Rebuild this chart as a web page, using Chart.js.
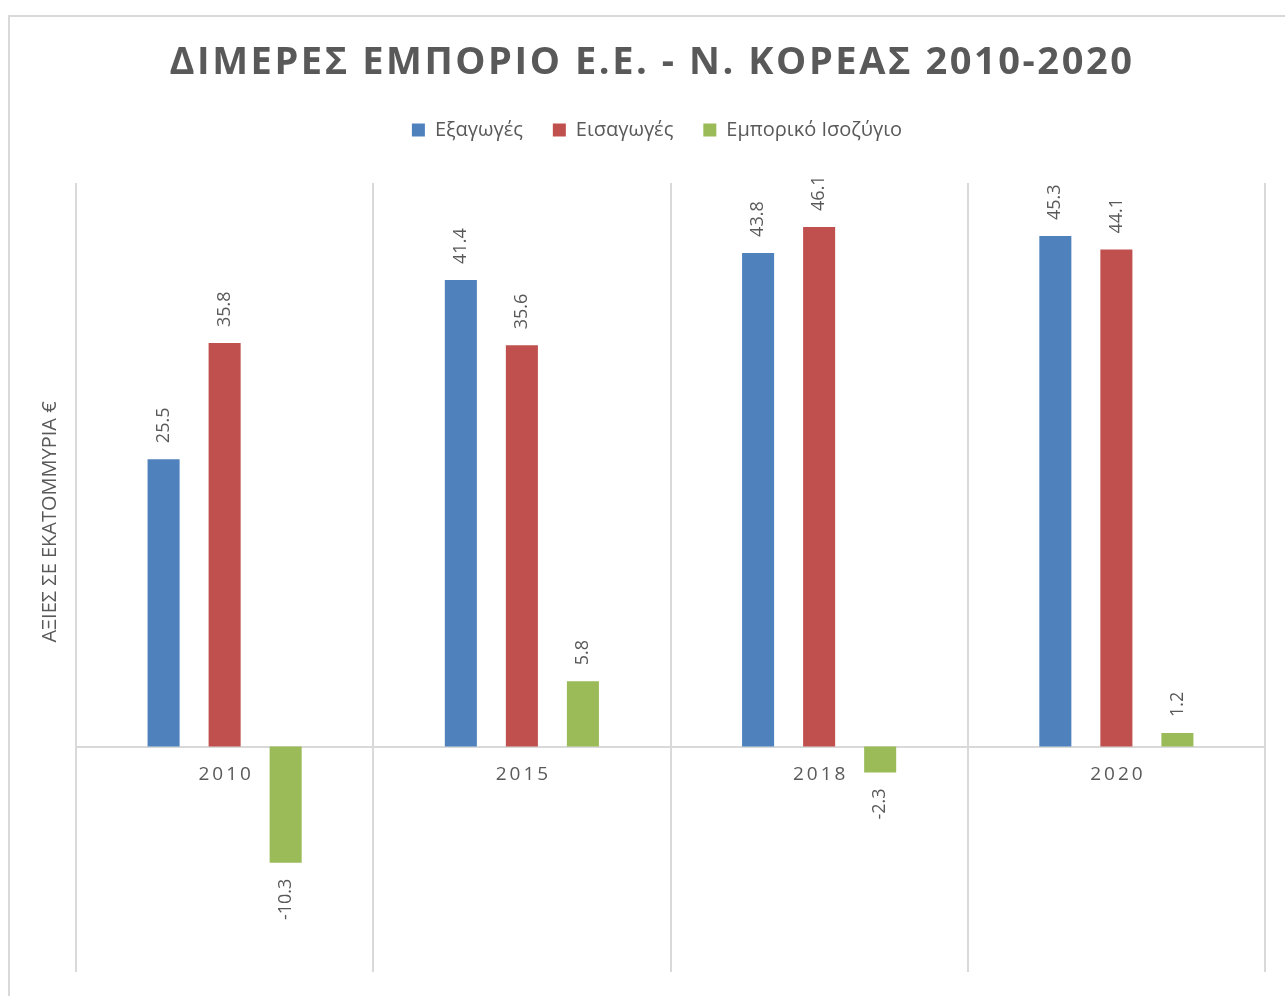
<!DOCTYPE html>
<html lang="el">
<head>
<meta charset="utf-8">
<title>Διμερές εμπόριο Ε.Ε. - Ν. Κορέας 2010-2020</title>
<script src="https://cdn.jsdelivr.net/npm/chart.js@4.4.1/dist/chart.umd.min.js"></script>
<style>
  html, body { margin: 0; padding: 0; background: #fff; overflow: hidden; }
  #frame {
    position: absolute; left: 8px; top: 15px;
    width: 1400px; height: 1100px;
    border: 2px solid #d9d9d9; box-sizing: border-box;
  }
  #wrap { position: absolute; left: 0; top: 0; width: 1285px; height: 996px; }
</style>
</head>
<body>
<div id="frame"></div>
<div id="wrap"><canvas id="chart" width="1285" height="996"></canvas></div>
<script>
  // ── Δεδομένα (εκατ. €) ───────────────────────────────────────
  const YEARS = ["2010", "2015", "2018", "2020"];
  const EXPORTS = [25.5, 41.4, 43.8, 45.3];
  const IMPORTS = [35.8, 35.6, 46.1, 44.1];
  const BALANCE = [-10.3, 5.8, -2.3, 1.2];
  const SERIES_NAMES = ["Εξαγωγές", "Εισαγωγές", "Εμπορικό Ισοζύγιο"];
  const Y_MIN = -20;
  const Y_MAX = 50;

  const TITLE = "ΔΙΜΕΡΕΣ ΕΜΠΟΡΙΟ Ε.Ε. - Ν. ΚΟΡΕΑΣ 2010-2020";
  const Y_TITLE = "ΑΞΙΕΣ ΣΕ ΕΚΑΤΟΜΜΥΡΙΑ €";

  const FONT = '"Open Sans", "Noto Sans", sans-serif';
  const TEXT = "#595959";
  const GRID = "#d9d9d9";

  Chart.defaults.font.family = FONT;
  Chart.defaults.color = TEXT;

  // Extra space between legend and plot (legend has no margin option)
  const legendSpacer = {
    id: "legendSpacer",
    beforeInit: function (chart) {
      const fit = chart.legend.fit;
      chart.legend.fit = function () {
        fit.bind(chart.legend)();
        this.height += 33;
      };
    }
  };

  // Title with letter spacing + rotated y-axis title
  const headings = {
    id: "headings",
    afterDraw: function (chart) {
      const ctx = chart.ctx;
      ctx.save();
      ctx.fillStyle = TEXT;
      ctx.textAlign = "center";
      ctx.textBaseline = "middle";
      ctx.font = "bold 38px " + FONT;
      const w = ctx.measureText(TITLE).width;
      ctx.letterSpacing = Math.max(0, (965 - w) / TITLE.length) + "px";
      ctx.fillText(TITLE, 652, 63);
      ctx.restore();

      ctx.save();
      ctx.fillStyle = TEXT;
      ctx.font = "20px " + FONT;
      ctx.textAlign = "center";
      ctx.textBaseline = "middle";
      ctx.translate(50, 522);
      ctx.rotate(-Math.PI / 2);
      ctx.fillText(Y_TITLE, 0, 0);
      ctx.restore();
    }
  };

  // Category labels (letter-spaced) placed at the x scale's tick pixels
  const categoryLabels = {
    id: "categoryLabels",
    afterDraw: function (chart) {
      const ctx = chart.ctx;
      const xs = chart.scales.x;
      const y0 = chart.scales.y.getPixelForValue(0);
      ctx.save();
      ctx.fillStyle = TEXT;
      ctx.font = "19px " + FONT;
      ctx.letterSpacing = "3px";
      ctx.textAlign = "center";
      ctx.textBaseline = "middle";
      chart.data.labels.forEach(function (lab, i) {
        ctx.fillText(lab, xs.getPixelForTick(i) + 1.5, y0 + 28);
      });
      ctx.restore();
    }
  };

  // Vertical value labels above / below each bar
  const barLabels = {
    id: "barLabels",
    afterDatasetsDraw: function (chart) {
      const ctx = chart.ctx;
      chart.data.datasets.forEach(function (ds, di) {
        const meta = chart.getDatasetMeta(di);
        meta.data.forEach(function (bar, i) {
          const v = ds.data[i];
          const up = v >= 0;
          ctx.save();
          ctx.fillStyle = TEXT;
          ctx.font = "18px " + FONT;
          ctx.textBaseline = "middle";
          ctx.textAlign = up ? "left" : "right";
          ctx.translate(bar.x, up ? bar.y - 16 : bar.y + 16);
          ctx.rotate(-Math.PI / 2);
          ctx.fillText(v.toFixed(1), 0, 0);
          ctx.restore();
        });
      });
    }
  };

  new Chart(document.getElementById("chart"), {
    type: "bar",
    data: {
      labels: YEARS,
      datasets: [
        { label: SERIES_NAMES[0], data: EXPORTS, backgroundColor: "#4f81bd" },
        { label: SERIES_NAMES[1], data: IMPORTS, backgroundColor: "#c0504d" },
        { label: SERIES_NAMES[2], data: BALANCE, backgroundColor: "#9bbb59" }
      ]
    },
    options: {
      responsive: false,
      animation: false,
      datasets: {
        bar: { categoryPercentage: 0.616, barPercentage: 0.525, borderWidth: 0 }
      },
      layout: { padding: { top: 90, left: 49, right: 20, bottom: 24 } },
      plugins: {
        legend: {
          position: "top",
          labels: {
            boxWidth: 13,
            boxHeight: 13,
            padding: 30,
            color: TEXT,
            font: { size: 20 }
          }
        },
        title: { display: false },
        tooltip: { enabled: false }
      },
      scales: {
        x: {
          position: { y: 0 },
          grid: { offset: true, color: GRID, lineWidth: 2, drawTicks: false },
          border: { color: GRID, width: 2 },
          ticks: { display: false }
        },
        y: {
          min: Y_MIN,
          max: Y_MAX,
          ticks: { display: false },
          grid: { display: false },
          border: { display: false },
          afterFit: function (scale) { scale.width = 27; }
        }
      }
    },
    plugins: [legendSpacer, headings, categoryLabels, barLabels]
  });
</script>
</body>
</html>
